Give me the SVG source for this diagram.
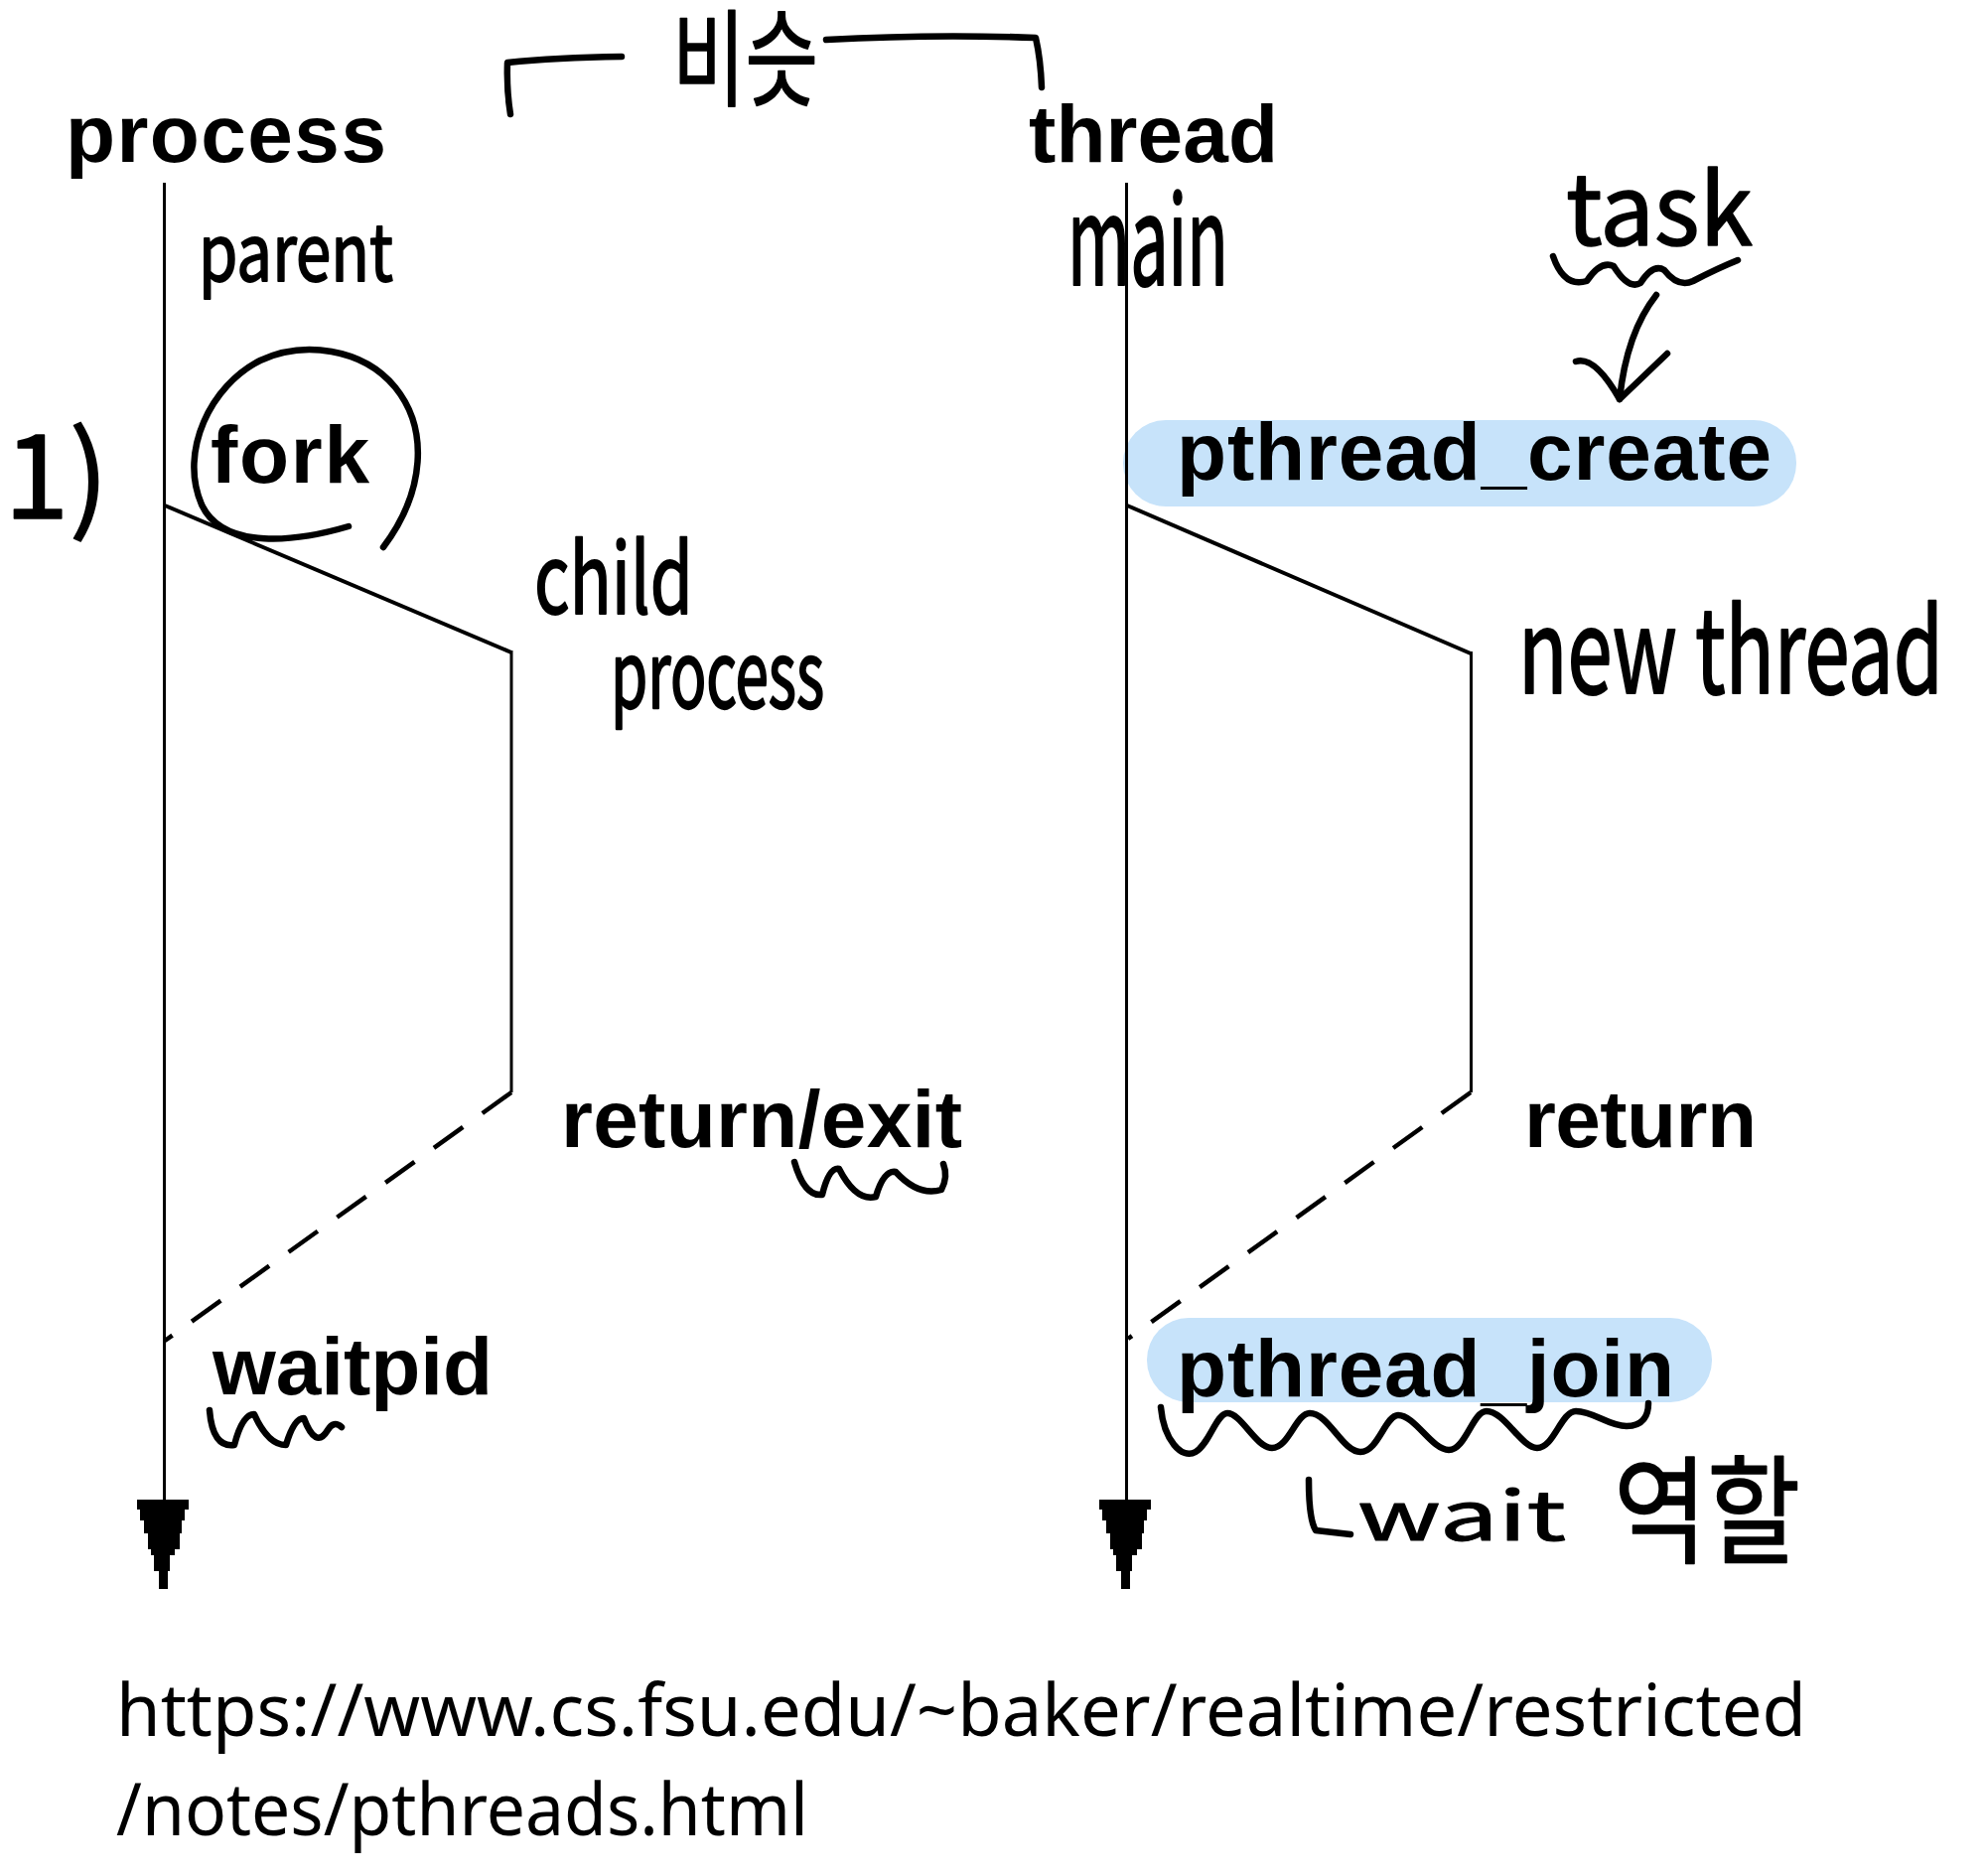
<svg xmlns="http://www.w3.org/2000/svg" width="2000" height="1889" viewBox="0 0 2000 1889">
<style>
.pix{font-family:"Liberation Sans",Arial,sans-serif;font-weight:bold;font-size:82px;fill:#000}
.hw{font-family:"Noto Sans CJK KR","Noto Sans",sans-serif;font-weight:400;fill:#000;stroke:#000;stroke-width:1.5;stroke-linejoin:round}
.ink{fill:none;stroke:#000;stroke-width:6.5;stroke-linecap:round;stroke-linejoin:round}
.life{fill:none;stroke:#000;stroke-width:3}
.diag{fill:none;stroke:#000;stroke-width:4}
.dash{fill:none;stroke:#000;stroke-width:4.5;stroke-dasharray:36 24}
.pill{fill:#C7E3FA}
.url{font-family:"Noto Sans","DejaVu Sans",sans-serif;font-size:73px;fill:#000}
</style>
<defs>
<polygon id="ahead" points="-27,0 25,0 25,10 21,10 21,21 18,21 18,34 16,34 16,50 11,50 11,56 6,56 6,72 4,72 4,90 -5,90 -5,72 -10,72 -10,56 -13,56 -13,50 -16,50 -16,34 -20,34 -20,21 -24,21 -24,10 -27,10 Z" fill="#000"/>
</defs>
<rect width="2000" height="1889" fill="#fff"/>

<g id="highlights">
<rect class="pill" x="1131" y="423" width="678" height="87" rx="43"/>
<rect class="pill" x="1155" y="1327" width="569" height="85" rx="42"/>
</g>

<g id="connectors">
<line class="life" x1="165.5" y1="184" x2="165.5" y2="1520"/>
<use href="#ahead" x="165" y="1510"/>
<line class="diag" x1="166" y1="509" x2="515" y2="657"/>
<line class="life" x1="515" y1="655" x2="515" y2="1100"/>
<line class="dash" x1="515" y1="1100" x2="166" y2="1350"/>

<line class="life" x1="1134.5" y1="184" x2="1134.5" y2="1520"/>
<use href="#ahead" x="1134" y="1510"/>
<line class="diag" x1="1135" y1="509" x2="1481" y2="658"/>
<line class="life" x1="1481.5" y1="656" x2="1481.5" y2="1100"/>
<line class="dash" x1="1481" y1="1100" x2="1136" y2="1348"/>
</g>

<g id="node-process"><text class="pix" x="66" y="163" textLength="323" lengthAdjust="spacing">process</text></g>
<g id="node-thread"><text class="pix" x="1036" y="163" textLength="251" lengthAdjust="spacing">thread</text></g>
<g id="node-fork"><text class="pix" x="212" y="486" textLength="160" lengthAdjust="spacing">fork</text></g>
<g id="node-pthread-create"><text class="pix" x="1185" y="483" textLength="599" lengthAdjust="spacing">pthread_create</text></g>
<g id="node-return-exit"><text class="pix" x="565" y="1155" textLength="404" lengthAdjust="spacing">return/exit</text></g>
<g id="node-return"><text class="pix" x="1535" y="1155" textLength="234" lengthAdjust="spacing">return</text></g>
<g id="node-waitpid"><text class="pix" x="214" y="1404" textLength="282" lengthAdjust="spacing">waitpid</text></g>
<g id="node-pthread-join"><text class="pix" x="1185" y="1406" textLength="501" lengthAdjust="spacing">pthread_join</text></g>

<g id="annotations">
<text class="hw" x="677" y="98" font-size="106" textLength="147" lengthAdjust="spacingAndGlyphs">비슷</text>
<path class="ink" d="M514 115 Q510 90 511 63 Q560 58 626 57"/>
<path class="ink" d="M832 40 Q940 34 1043 38 Q1048 60 1049 88"/>
<text class="hw" transform="translate(200,283) scale(1,1.25)" x="0" y="0" font-size="63" textLength="196" lengthAdjust="spacingAndGlyphs">parent</text>
<text class="hw" transform="translate(1075,287) scale(1,1.45)" x="0" y="0" font-size="85" textLength="162" lengthAdjust="spacingAndGlyphs">main</text>
<text class="hw" x="4" y="522" font-size="118">1)</text>
<path class="ink" d="M351 530 C300 545 225 555 203 508 C180 455 212 388 262 363 C305 343 365 350 398 390 C432 432 428 495 386 551"/>
<text class="hw" transform="translate(538,618) scale(1,1.3)" x="0" y="0" font-size="75" textLength="160" lengthAdjust="spacingAndGlyphs">child</text>
<text class="hw" transform="translate(615,713) scale(1,1.5)" x="0" y="0" font-size="62" textLength="215" lengthAdjust="spacingAndGlyphs">process</text>
<text class="hw" transform="translate(1577,247) scale(1,1.1)" x="0" y="0" font-size="90" textLength="188" lengthAdjust="spacingAndGlyphs">task</text>
<path class="ink" d="M1564 258 Q1575 290 1598 283 Q1612 262 1625 268 Q1640 292 1652 285 Q1665 265 1676 272 Q1690 290 1705 283 Q1730 270 1750 262"/>
<path class="ink" d="M1668 297 Q1638 335 1631 402"/>
<path class="ink" d="M1587 364 Q1606 358 1631 402 L1679 356"/>
<text class="hw" transform="translate(1529,698) scale(1,1.4)" x="0" y="0" font-size="84" textLength="428" lengthAdjust="spacingAndGlyphs">new thread</text>
<path class="ink" d="M800 1170 Q810 1205 828 1203 Q835 1175 845 1177 Q862 1210 882 1205 Q890 1178 902 1180 Q925 1205 948 1198 Q955 1185 950 1172"/>
<path class="ink" d="M211 1420 Q214 1458 236 1455 Q244 1424 256 1424 Q270 1455 288 1455 Q296 1428 306 1428 Q318 1460 330 1440 Q336 1430 344 1437"/>
<path class="ink" d="M1169 1417 C1172 1450 1190 1470 1204 1462 C1218 1454 1225 1423 1236 1423 C1250 1423 1265 1458 1281 1458 C1298 1458 1305 1423 1319 1423 C1338 1423 1352 1462 1370 1462 C1388 1462 1395 1425 1408 1425 C1425 1425 1442 1460 1459 1460 C1476 1460 1483 1421 1497 1421 C1515 1421 1532 1458 1548 1458 C1565 1458 1572 1421 1587 1421 C1605 1421 1620 1436 1638 1436 C1655 1436 1660 1425 1660 1413"/>
<path class="ink" d="M1318 1490 Q1318 1530 1325 1541 L1360 1545"/>
<text class="hw" transform="translate(1367,1551) scale(1,0.68)" x="0" y="0" font-size="100" textLength="210" lengthAdjust="spacingAndGlyphs">wait</text>
<text class="hw" x="1625" y="1565" font-size="118" textLength="188" lengthAdjust="spacingAndGlyphs">역할</text>
</g>

<g id="source">
<text class="url" x="117" y="1748" textLength="1702" lengthAdjust="spacingAndGlyphs">https://www.cs.fsu.edu/~baker/realtime/restricted</text>
<text class="url" x="117" y="1848" textLength="697" lengthAdjust="spacingAndGlyphs">/notes/pthreads.html</text>
</g>
</svg>
